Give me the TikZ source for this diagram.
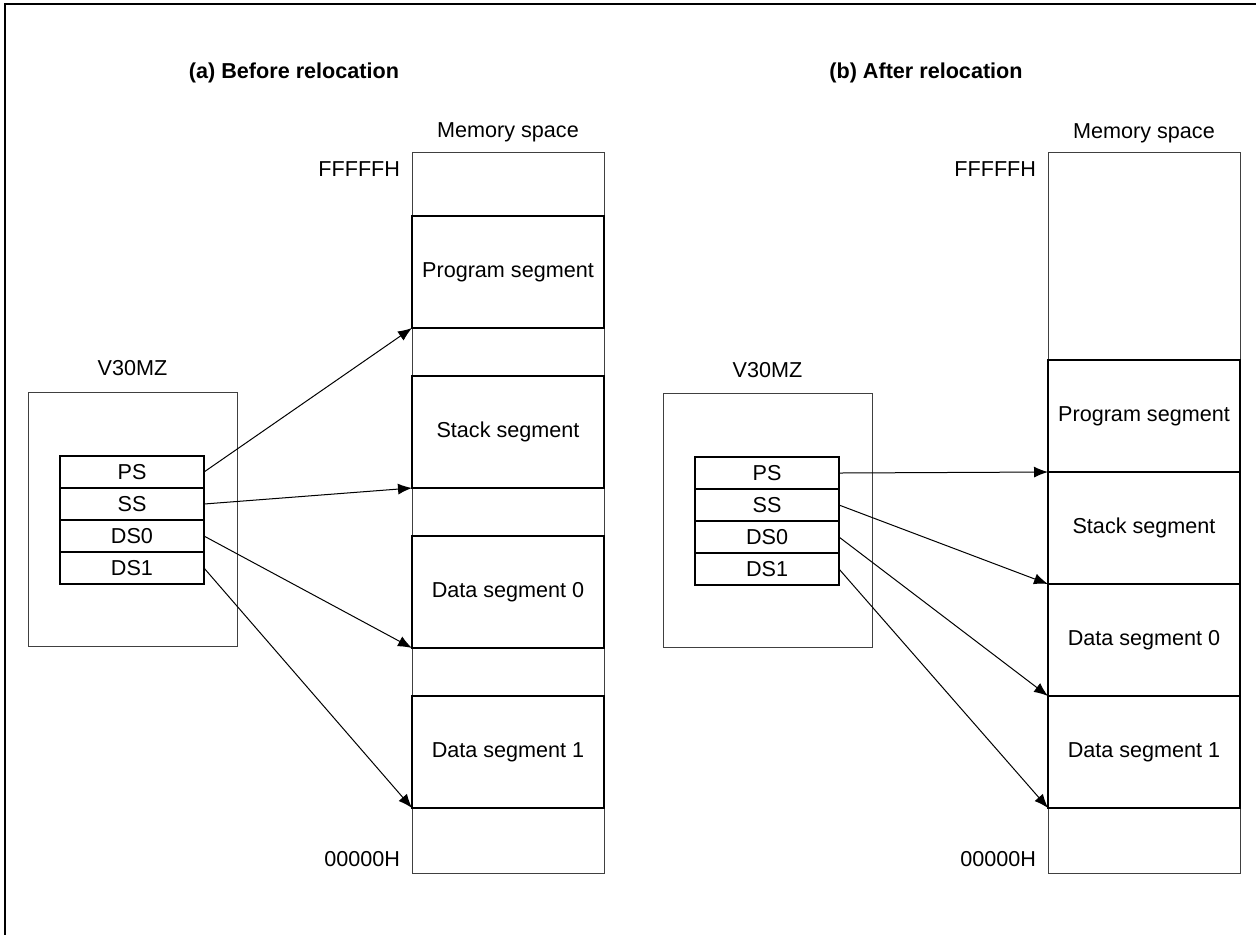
\documentclass[tikz,border=0pt]{standalone}
\usepackage{fontspec}
\setmainfont{Liberation Sans}
\usetikzlibrary{positioning,arrows.meta}

\begin{document}
\begin{tikzpicture}[
      x=0.5pt, y=-0.5pt,
      every node/.style = {font=\fontsize{10.8}{13}\selectfont, inner sep=0pt, outer sep=0pt},
      space/.style   = {draw=black!75, line width=0.5pt, minimum width=96pt, minimum height=360.5pt},
      segment/.style = {draw=black, line width=1pt, minimum width=96pt, minimum height=56pt},
      cpu/.style     = {draw=black!75, line width=0.5pt, minimum width=104.5pt, minimum height=127pt},
      reg/.style     = {draw=black, line width=1pt, minimum width=72pt, minimum height=16pt},
      title/.style   = {font=\fontsize{10.8}{13}\selectfont\bfseries},
      ptr/.style     = {-{Latex[length=7pt,width=5.5pt]}, line width=0.5pt}
    ]
    \useasboundingbox (0,0) rectangle (1256,934);
    \clip (0,0) rectangle (1256,934);
    \draw[line width=1pt] (5,4) rectangle (1300,1000);

    \node (titlebefore) [title, anchor=base] at (294,78)  {(a) Before relocation};
    \node (titleafter)  [title, anchor=base] at (926,78)  {(b) After relocation};

    % (a) before relocation
    \node (memleft)       [space] at (508,512.5) {};
    \node (memleftlabel)  [above=5pt of memleft] {Memory space};
    \node (topleft)       [anchor=base east] at (400,176) {FFFFFH};
    \node (bottomleft)    [anchor=base east] at (400,866) {00000H};
    \node (progleft)      [segment] at (508,272)          {Program segment};
    \node (stackleft)     [segment, below=24pt of progleft]  {Stack segment};
    \node (datazeroleft)  [segment, below=24pt of stackleft] {Data segment 0};
    \node (dataoneleft)   [segment, below=24pt of datazeroleft] {Data segment 1};

    \node (cpuleft)       [cpu] at (132.5,519) {};
    \node (cpuleftlabel)  [above=8pt of cpuleft] {V30MZ};
    \node (psleft)        [reg] at (132,472)            {PS};
    \node (ssleft)        [reg, below=0pt of psleft]     {SS};
    \node (dszeroleft)    [reg, below=0pt of ssleft]     {DS0};
    \node (dsoneleft)     [reg, below=0pt of dszeroleft] {DS1};

    \draw[ptr] (psleft.east)     to (progleft.south west);
    \draw[ptr] (ssleft.east)     to (stackleft.south west);
    \draw[ptr] (dszeroleft.east) to (datazeroleft.south west);
    \draw[ptr] (dsoneleft.east)  to (dataoneleft.south west);

    % (b) after relocation
    \node (memright)      [space] at (1144,513) {};
    \node (memrightlabel) [above=5pt of memright] {Memory space};
    \node (topright)      [anchor=base east] at (1036,176) {FFFFFH};
    \node (bottomright)   [anchor=base east] at (1036,866) {00000H};
    \node (progright)     [segment] at (1144,416)         {Program segment};
    \node (stackright)    [segment, below=0pt of progright]    {Stack segment};
    \node (datazeroright) [segment, below=0pt of stackright]   {Data segment 0};
    \node (dataoneright)  [segment, below=0pt of datazeroright] {Data segment 1};

    \node (cpuright)      [cpu] at (767.5,520.5) {};
    \node (cpurightlabel) [above=8pt of cpuright] {V30MZ};
    \node (psright)       [reg] at (767,473)             {PS};
    \node (ssright)       [reg, below=0pt of psright]     {SS};
    \node (dszeroright)   [reg, below=0pt of ssright]     {DS0};
    \node (dsoneright)    [reg, below=0pt of dszeroright] {DS1};

    \draw[ptr] (psright.east)     to (progright.south west);
    \draw[ptr] (ssright.east)     to (stackright.south west);
    \draw[ptr] (dszeroright.east) to (datazeroright.south west);
    \draw[ptr] (dsoneright.east)  to (dataoneright.south west);
  \end{tikzpicture}
\end{document}
